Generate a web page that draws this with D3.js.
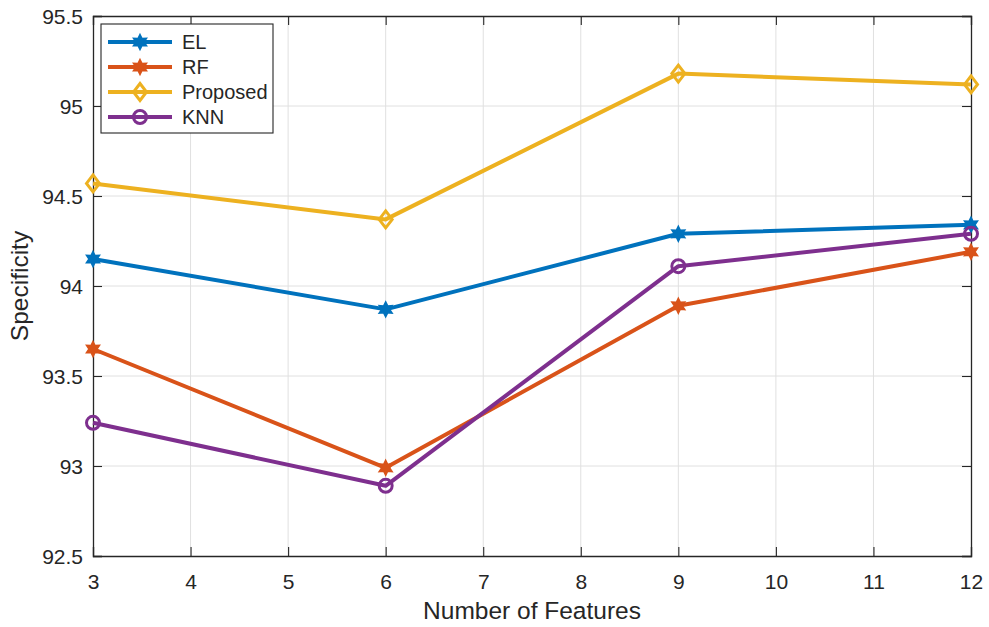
<!DOCTYPE html>
<html>
<head>
<meta charset="utf-8">
<script src="https://cdn.jsdelivr.net/npm/d3@7"></script>
<style>
  body { margin: 0; background: #fff; }
  svg text { font-family: "Liberation Sans", Arial, sans-serif; fill: #262626; }
</style>
</head>
<body>
<svg id="chart" width="989" height="627"></svg>
<script>
// Specificity versus number of selected features, per classifier
const features = [3, 6, 9, 12];
const elValues = [94.15, 93.87, 94.29, 94.34];
const rfValues = [93.65, 92.99, 93.89, 94.19];
const proposedValues = [94.57, 94.37, 95.18, 95.12];
const knnValues = [93.24, 92.89, 94.11, 94.29];
const seriesNames = ["EL", "RF", "Proposed", "KNN"];
const xTicks = [3, 4, 5, 6, 7, 8, 9, 10, 11, 12];
const yTicks = [92.5, 93, 93.5, 94, 94.5, 95, 95.5];

const series = [
  { name: seriesNames[0], values: elValues, color: "#0072BD", marker: "star" },
  { name: seriesNames[1], values: rfValues, color: "#D95319", marker: "star" },
  { name: seriesNames[2], values: proposedValues, color: "#EDB120", marker: "diamond" },
  { name: seriesNames[3], values: knnValues, color: "#7E2F8E", marker: "circle" }
];

const svg = d3.select("#chart");
const m = { left: 93, right: 989 - 971, top: 16, bottom: 627 - 556 };
const W = 989 - m.left - m.right, H = 627 - m.top - m.bottom;
const g = svg.append("g").attr("transform", `translate(${m.left},${m.top})`);

const x = d3.scaleLinear().domain([3, 12]).range([0, W]);
const y = d3.scaleLinear().domain([92.5, 95.5]).range([H, 0]);

// grid
g.append("g").selectAll("line").data(xTicks.slice(1, -1)).join("line")
  .attr("x1", d => x(d)).attr("x2", d => x(d)).attr("y1", 0).attr("y2", H)
  .attr("stroke", "#e0e0e0").attr("stroke-width", 1);
g.append("g").selectAll("line").data(yTicks.slice(1, -1)).join("line")
  .attr("y1", d => y(d)).attr("y2", d => y(d)).attr("x1", 0).attr("x2", W)
  .attr("stroke", "#e0e0e0").attr("stroke-width", 1);

// axes (ticks inward, labels outside)
const axisColor = "#262626";
const xAxis = g.append("g").attr("transform", `translate(0,${H})`)
  .call(d3.axisBottom(x).tickValues(xTicks).tickSize(-9).tickFormat(d3.format("d")));
const yAxis = g.append("g")
  .call(d3.axisLeft(y).tickValues(yTicks).tickSize(-9).tickFormat(d => d3.format("")(d)));
const xTop = g.append("g")
  .call(d3.axisTop(x).tickValues(xTicks).tickSize(-9).tickFormat(""));
const yRight = g.append("g").attr("transform", `translate(${W},0)`)
  .call(d3.axisRight(y).tickValues(yTicks).tickSize(-9).tickFormat(""));
[xAxis, yAxis, xTop, yRight].forEach(a => {
  a.select(".domain").attr("stroke", axisColor).attr("stroke-width", 1.3);
  a.selectAll(".tick line").attr("stroke", axisColor).attr("stroke-width", 1.1);
  a.selectAll("text").style("font-size", "21px").attr("fill", "#333");
});
xAxis.selectAll("text").attr("dy", null).attr("y", 33);
yAxis.selectAll("text").attr("x", -10).attr("dy", "0.35em");

// axis titles
svg.append("text").attr("x", m.left + W / 2 - 0).attr("y", 619)
  .attr("text-anchor", "middle").style("font-size", "24.5px").attr("fill", "#333").text("Number of Features");
svg.append("text").attr("transform", `translate(28,${m.top + H / 2 + 0}) rotate(-90)`)
  .attr("text-anchor", "middle").style("font-size", "24.5px").attr("fill", "#333").text("Specificity");

// marker shapes
function drawMarker(sel, type, color) {
  if (type === "star") {
    // six-pointed star
    const pts = [];
    for (let i = 0; i < 12; i++) {
      const r = i % 2 === 0 ? 7.5 : 4;
      const a = Math.PI / 6 * i - Math.PI / 2;
      pts.push([r * Math.cos(a), r * Math.sin(a)]);
    }
    sel.append("path").attr("d", "M" + pts.join("L") + "Z")
      .attr("fill", color).attr("stroke", color).attr("stroke-width", 1.5);
  } else if (type === "diamond") {
    sel.append("path").attr("d", "M0,-8.5L6.5,0L0,8.5L-6.5,0Z")
      .attr("fill", "none").attr("stroke", color).attr("stroke-width", 3);
  } else {
    sel.append("circle").attr("r", 6.5)
      .attr("fill", "none").attr("stroke", color).attr("stroke-width", 3);
  }
}

// lines and markers
const line = d3.line().x((d, i) => x(features[i])).y(d => y(d));
series.forEach(s => {
  g.append("path").datum(s.values).attr("d", line)
    .attr("fill", "none").attr("stroke", s.color).attr("stroke-width", 4)
    .attr("stroke-linejoin", "round");
  s.values.forEach((v, i) => {
    const mk = g.append("g").attr("transform", `translate(${x(features[i])},${y(v)})`);
    drawMarker(mk, s.marker, s.color);
  });
});

// legend
const lg = svg.append("g").attr("transform", "translate(101,24)");
lg.append("rect").attr("width", 172).attr("height", 109)
  .attr("fill", "#fff").attr("stroke", axisColor).attr("stroke-width", 1.1);
series.forEach((s, i) => {
  const yy = 18 + i * 25;
  lg.append("line").attr("x1", 7).attr("x2", 71).attr("y1", yy).attr("y2", yy)
    .attr("stroke", s.color).attr("stroke-width", 4);
  const mk = lg.append("g").attr("transform", `translate(39,${yy})`);
  drawMarker(mk, s.marker, s.color);
  lg.append("text").attr("x", 81).attr("y", yy).attr("dy", "0.36em")
    .style("font-size", "20px").attr("fill", "#222").text(s.name);
});
</script>
</body>
</html>
